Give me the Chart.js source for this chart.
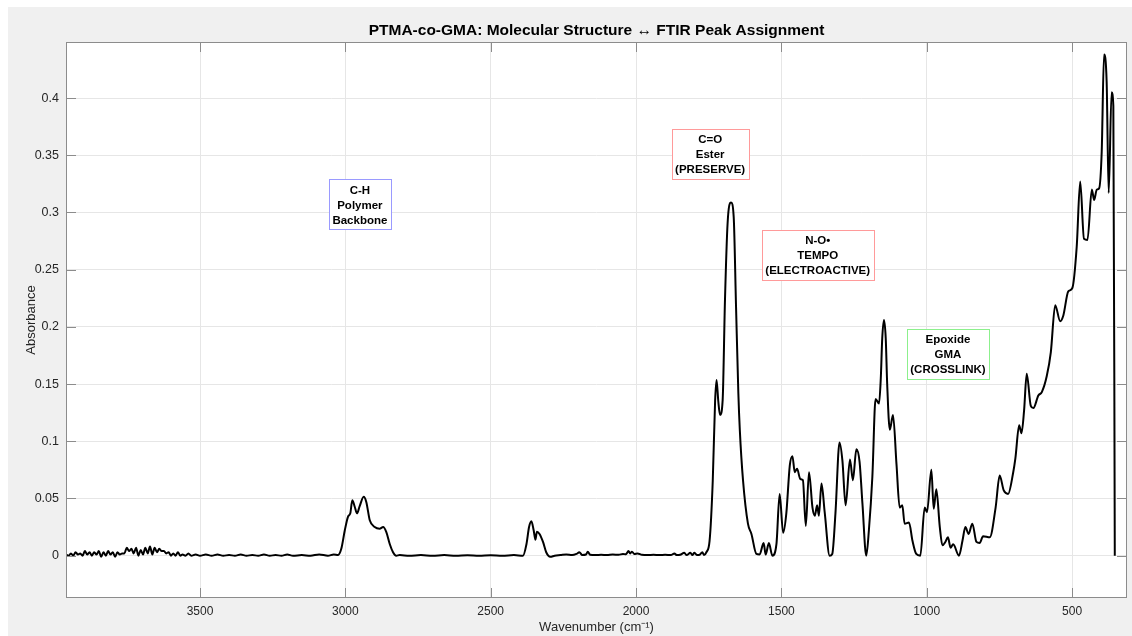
<!DOCTYPE html>
<html>
<head>
<meta charset="utf-8">
<script src="https://cdn.jsdelivr.net/npm/chart.js@4.4.1/dist/chart.umd.min.js"></script>
<style>
    html, body { margin: 0; padding: 0; background: #ffffff; }
    #contenedor { position: absolute; left: 8px; top: 7px; width: 1124px; height: 629px; }
</style>
</head>
<body>
<div id="contenedor"><canvas id="graficoFTIR"></canvas></div>
<script>
// Espectro FTIR (número de onda en cm-1, de mayor a menor)
const numeroOnda = [
    3960, 3952, 3944, 3936, 3928, 3920, 3912, 3904, 3896, 3888,
    3880, 3872, 3864, 3856, 3848, 3840, 3832, 3824, 3816, 3808,
    3800, 3792, 3784, 3776, 3768, 3760, 3752, 3744, 3736, 3728,
    3720, 3712, 3704, 3696, 3688, 3680, 3672, 3664, 3656, 3648,
    3640, 3632, 3624, 3616, 3608, 3600, 3592, 3584, 3576, 3568,
    3560, 3550, 3540, 3530, 3515, 3500, 3480, 3460, 3440, 3420,
    3400, 3380, 3360, 3340, 3320, 3300, 3280, 3260, 3240, 3220,
    3200, 3180, 3150, 3120, 3090, 3060, 3040, 3025, 3014, 3002,
    2991, 2983, 2976, 2968, 2960, 2951, 2937, 2928, 2916, 2899,
    2882, 2870, 2859, 2847, 2836, 2825, 2813, 2780, 2740, 2700,
    2660, 2620, 2580, 2540, 2500, 2460, 2420, 2389, 2377, 2368,
    2360, 2352, 2346, 2341, 2332, 2320, 2309, 2295, 2280, 2260,
    2240, 2220, 2205, 2195, 2185, 2172, 2166, 2158, 2140, 2120,
    2100, 2080, 2060, 2045, 2035, 2026, 2020, 2014, 2006, 1995,
    1980, 1960, 1940, 1920, 1900, 1880, 1868, 1860, 1848, 1834,
    1826, 1813, 1806, 1800, 1790, 1780, 1772, 1766, 1758, 1747,
    1736, 1728, 1723, 1717, 1711, 1702, 1694, 1685, 1673, 1664,
    1656, 1648, 1643, 1632, 1615, 1603, 1586, 1575, 1561, 1554,
    1543, 1531, 1517, 1506, 1494, 1483, 1471, 1462, 1454, 1446,
    1435, 1426, 1416, 1405, 1393, 1385, 1377, 1371, 1362, 1351,
    1334, 1325, 1314, 1300, 1290, 1279, 1264, 1254, 1242, 1231,
    1221, 1208, 1199, 1187, 1176, 1164, 1158, 1153, 1147, 1141,
    1136, 1127, 1116, 1104, 1093, 1084, 1076, 1061, 1049, 1036,
    1022, 1007, 999, 984, 976, 967, 955, 946, 936, 927,
    918, 909, 889, 877, 867, 856, 843, 829, 818, 806,
    783, 763, 749, 735, 720, 703, 695, 682, 674, 665,
    656, 642, 633, 616, 604, 587, 573, 558, 541, 530,
    513, 499, 484, 472, 459, 447, 432, 424, 415, 407,
    398, 390, 381, 374, 364, 358, 353
];

const absorbancia = [
    0.001, 0.000, 0.002, 0.000, 0.003, 0.001, 0.002, 0.000, 0.004, 0.001,
    0.003, 0.000, 0.003, 0.001, 0.004, -0.001, 0.003, 0.000, 0.004, 0.001,
    0.003, -0.001, 0.003, 0.001, 0.002, 0.002, 0.007, 0.004, 0.006, 0.002,
    0.007, 0.000, 0.005, 0.001, 0.007, 0.002, 0.008, 0.001, 0.007, 0.003,
    0.006, 0.004, 0.004, 0.002, 0.003, 0.000, 0.002, 0.000, 0.003, 0.000,
    0.001, 0.000, 0.002, 0.000, 0.001, 0.000, 0.001, 0.000, 0.001, 0.000,
    0.0005, 0.000, 0.001, 0.000, 0.0005, 0.000, 0.001, 0.000, 0.0005, 0.000,
    0.001, 0.000, 0.0005, 0.000, 0.001, 0.000, 0.001, 0.0006, 0.006, 0.022,
    0.034, 0.037, 0.0485, 0.043, 0.037, 0.043, 0.0515, 0.047, 0.031, 0.025,
    0.0235, 0.025, 0.0206, 0.010, 0.003, 0.000, 0.0005, 0.000, 0.0005, 0.000,
    0.0005, 0.000, 0.0003, 0.000, 0.0003, 0.000, 0.0005, 0.000, 0.010, 0.025,
    0.030, 0.022, 0.014, 0.021, 0.019, 0.012, 0.003, -0.001, 0.000, 0.0005,
    0.001, 0.0005, 0.0015, 0.003, 0.0005, 0.001, 0.0035, 0.0008, 0.0005, 0.0008,
    0.0005, 0.001, 0.0008, 0.0015, 0.0012, 0.004, 0.002, 0.0035, 0.0015, 0.002,
    0.0008, 0.0005, 0.0008, 0.0005, 0.0008, 0.0005, 0.002, 0.0005, 0.0008, 0.0025,
    0.0005, 0.0025, 0.0005, 0.0025, 0.0005, 0.001, 0.003, 0.0005, 0.003, 0.013,
    0.066, 0.135, 0.1535, 0.135, 0.123, 0.136, 0.2236, 0.2906, 0.3086, 0.296,
    0.218, 0.142, 0.110, 0.066, 0.028, 0.019, 0.0015, 0.001, 0.011, 0.001,
    0.011, 0.000, 0.010, 0.054, 0.020, 0.037, 0.079, 0.087, 0.073, 0.076,
    0.067, 0.066, 0.026, 0.073, 0.042, 0.035, 0.044, 0.035, 0.063, 0.038,
    0.000, 0.0015, 0.037, 0.099, 0.083, 0.044, 0.084, 0.066, 0.093, 0.082,
    0.045, 0.000, 0.022, 0.069, 0.137, 0.133, 0.155, 0.190, 0.206, 0.190,
    0.150, 0.110, 0.123, 0.080, 0.042, 0.044, 0.028, 0.029, 0.013, 0.0015,
    0.000, 0.042, 0.038, 0.075, 0.041, 0.058, 0.025, 0.009, 0.012, 0.016,
    0.007, 0.010, 0.000, 0.013, 0.025, 0.019, 0.028, 0.012, 0.011, 0.017,
    0.016, 0.042, 0.070, 0.057, 0.054, 0.072, 0.085, 0.114, 0.107, 0.127,
    0.159, 0.131, 0.129, 0.140, 0.143, 0.157, 0.178, 0.219, 0.205, 0.210,
    0.231, 0.234, 0.270, 0.327, 0.277, 0.276, 0.320, 0.311, 0.320, 0.321,
    0.353, 0.438, 0.414, 0.317, 0.405, 0.393, 0.000
];

// Marcas de los ejes
const ticksX = [3500, 3000, 2500, 2000, 1500, 1000, 500];
const ticksY = [0, 0.05, 0.1, 0.15, 0.2, 0.25, 0.3, 0.35, 0.4];

// Cuadros de asignación de picos (texto y centro en unidades de los datos)
const etiquetasTexto = [
    ['C-H', 'Polymer', 'Backbone'],
    ['C=O', 'Ester', '(PRESERVE)'],
    ['N-O•', 'TEMPO', '(ELECTROACTIVE)'],
    ['Epoxide', 'GMA', '(CROSSLINK)']
];
const etiquetasOnda = [2950, 1745, 1375, 927];
const etiquetasAbs = [0.307, 0.351, 0.263, 0.176];

const FUENTE = '"Liberation Sans", Arial, Helvetica, sans-serif';
const COLOR_EJE = '#8c8c8c';
const LARGO_TICK = 10;
const coloresEtiqueta = ['#9a9aff', '#ff9a9a', '#ff9a9a', '#8cf08c'];

// Plugin para el fondo gris, el marco con ticks hacia adentro y los cuadros de texto
const pluginMarco = {
    id: 'marco',
    beforeDraw(chart) {
        const { ctx, chartArea: a } = chart;
        ctx.save();
        ctx.fillStyle = '#f0f0f0';
        ctx.fillRect(0, 0, chart.width, chart.height);
        ctx.fillStyle = '#ffffff';
        ctx.fillRect(a.left, a.top, a.right - a.left, a.bottom - a.top);
        ctx.restore();
    },
    afterDatasetsDraw(chart) {
        const { ctx, chartArea: a, scales } = chart;
        ctx.save();
        ctx.strokeStyle = COLOR_EJE;
        ctx.lineWidth = 1;
        ctx.strokeRect(Math.round(a.left) + 0.5, Math.round(a.top) + 0.5,
            Math.round(a.right - a.left) - 1, Math.round(a.bottom - a.top) - 1);

        ctx.beginPath();
        ticksX.forEach(v => {
            const px = Math.round(scales.x.getPixelForValue(v)) + 0.5;
            ctx.moveTo(px, a.bottom); ctx.lineTo(px, a.bottom - LARGO_TICK);
            ctx.moveTo(px, a.top); ctx.lineTo(px, a.top + LARGO_TICK);
        });
        ticksY.forEach(v => {
            const py = Math.round(scales.y.getPixelForValue(v)) + 0.5;
            ctx.moveTo(a.left, py); ctx.lineTo(a.left + LARGO_TICK, py);
            ctx.moveTo(a.right, py); ctx.lineTo(a.right - LARGO_TICK, py);
        });
        ctx.stroke();

        // Cuadros de texto
        const altoLinea = 15;
        ctx.font = 'bold 11.5px ' + FUENTE;
        ctx.textAlign = 'center';
        ctx.textBaseline = 'middle';
        etiquetasTexto.forEach((lineas, i) => {
            const cx = scales.x.getPixelForValue(etiquetasOnda[i]);
            const cy = scales.y.getPixelForValue(etiquetasAbs[i]);
            const ancho = Math.round(Math.max(...lineas.map(t => ctx.measureText(t).width)) + 7);
            const alto = Math.round(lineas.length * altoLinea + 5);
            const x0 = Math.round(cx - ancho / 2) + 0.5;
            const y0 = Math.round(cy - alto / 2) + 0.5;
            ctx.fillStyle = '#ffffff';
            ctx.fillRect(x0, y0, ancho, alto);
            ctx.strokeStyle = coloresEtiqueta[i];
            ctx.strokeRect(x0, y0, ancho, alto);
            ctx.fillStyle = '#000000';
            lineas.forEach((t, j) => {
                ctx.fillText(t, cx, cy + 1 + (j - (lineas.length - 1) / 2) * altoLinea);
            });
        });
        ctx.restore();
    }
};

// Crear el gráfico con Chart.js
const puntos = numeroOnda.map((x, i) => ({ x: x, y: absorbancia[i] }));
const ctx = document.getElementById('graficoFTIR').getContext('2d');
new Chart(ctx, {
    type: 'line',
    data: {
        datasets: [{
            label: 'PTMA-co-GMA',
            data: puntos,
            borderColor: '#000000',
            borderWidth: 2,
            pointRadius: 0,
            fill: false,
            cubicInterpolationMode: 'monotone'
        }]
    },
    options: {
        responsive: true,
        maintainAspectRatio: false,
        animation: false,
        devicePixelRatio: 1,
        layout: { padding: { left: 0, right: 5, top: 0, bottom: 0 } },
        plugins: {
            legend: { display: false },
            tooltip: { enabled: false },
            title: {
                display: true,
                fullSize: false, // centrado sobre el área del gráfico
                text: 'PTMA-co-GMA: Molecular Structure ↔ FTIR Peak Assignment',
                color: '#000000',
                font: { family: FUENTE, size: 15.5, weight: 'bold', lineHeight: 1.2 },
                padding: { top: 14.5, bottom: 1.9 }
            }
        },
        scales: {
            x: {
                type: 'linear',
                reverse: true,
                min: 311,
                max: 3961,
                afterBuildTicks: s => { s.ticks = ticksX.map(v => ({ value: v })); },
                afterFit: s => { s.height = 38; },
                grid: { color: '#e6e6e6', drawTicks: false },
                border: { display: false },
                ticks: {
                    autoSkip: false, maxRotation: 0, padding: 6,
                    color: '#262626', font: { family: FUENTE, size: 12 },
                    callback: v => String(v)
                },
                title: {
                    display: true, text: 'Wavenumber (cm⁻¹)', color: '#262626',
                    font: { family: FUENTE, size: 13 }, padding: { top: 0, bottom: 0.5 }
                }
            },
            y: {
                type: 'linear',
                min: -0.037,
                max: 0.449,
                afterBuildTicks: s => { s.ticks = ticksY.map(v => ({ value: v })); },
                afterFit: s => { s.width = 58; },
                grid: { color: '#e6e6e6', drawTicks: false },
                border: { display: false },
                ticks: {
                    autoSkip: false, padding: 7,
                    color: '#262626', font: { family: FUENTE, size: 12.5 },
                    callback: v => String(parseFloat(v.toFixed(2)))
                },
                title: {
                    display: true, text: 'Absorbance', color: '#262626',
                    font: { family: FUENTE, size: 13 }, padding: { top: 16, bottom: 0 }
                }
            }
        }
    },
    plugins: [pluginMarco]
});
</script>
</body>
</html>
